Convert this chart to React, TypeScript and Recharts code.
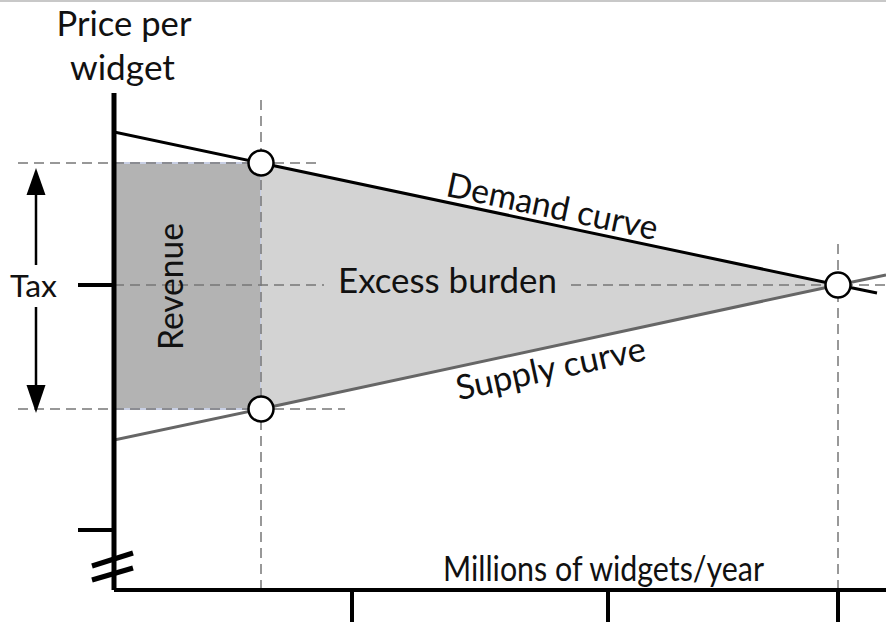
import React from 'react';
import {
  ComposedChart,
  XAxis,
  YAxis,
  Line,
  Area,
  Scatter,
  ReferenceLine,
  ReferenceArea,
  ReferenceDot,
} from 'recharts';

const W = 886;
const H = 630;
const FONT = 'Lato, "Noto Sans", sans-serif';

// Quantities (x) and prices (y)
const demandQ = [0, 14.7, 72.4, 76.3];
const demandP = [45.8, 42.7, 30.5, 29.7];
const supplyQ = [0, 14.7, 72.4, 77.2];
const supplyP = [15.0, 18.1, 30.5, 31.5];

const taxQ = 14.7; // quantity with tax
const eqQ = 72.4; // equilibrium quantity
const eqP = 30.5; // equilibrium price
const buyerP = 42.7; // price paid by buyers
const sellerP = 18.1; // price received by sellers

const markerQ = [14.7, 14.7, 72.4];
const markerP = [42.7, 18.1, 30.5];

const burdenQ = [14.7, 72.4];
const burdenLow = [18.1, 30.5];
const burdenHigh = [42.7, 30.5];

const xTicks = [23.8, 49.4, 72.4];
const yTicks = [30.5, 6.0];

const xDomain = [0, 77.2];
const yDomain = [0, 49.7];

const demandData = demandQ.map((q, i) => ({ q, p: demandP[i] }));
const supplyData = supplyQ.map((q, i) => ({ q, p: supplyP[i] }));
const markerData = markerQ.map((q, i) => ({ q, p: markerP[i] }));
const burdenData = burdenQ.map((q, i) => ({ q, band: [burdenLow[i], burdenHigh[i]] }));

const dash = { stroke: '#777', strokeWidth: 1.5, strokeDasharray: '10 6' };

const textShape =
  (text: string, size: number, length: number, rotate = 0) =>
  (p: any) =>
    (
      <text
        x={p.cx}
        y={p.cy}
        textAnchor="middle"
        fontSize={size}
        fontFamily={FONT}
        fill="#111"
        textLength={length}
        lengthAdjust="spacingAndGlyphs"
        transform={rotate ? `rotate(${rotate} ${p.cx} ${p.cy})` : undefined}
      >
        {text}
      </text>
    );

const arrowUp = (p: any) => (
  <polygon points={`${p.cx},${p.cy} ${p.cx - 9.5},${p.cy + 27} ${p.cx + 9.5},${p.cy + 27}`} fill="#000" />
);
const arrowDown = (p: any) => (
  <polygon points={`${p.cx},${p.cy} ${p.cx - 9.5},${p.cy - 28} ${p.cx + 9.5},${p.cy - 28}`} fill="#000" />
);

const circleShape = (p: any) => (
  <circle cx={p.cx} cy={p.cy} r={12.5} fill="#fff" stroke="#000" strokeWidth={2.5} />
);

export default function App() {
  return (
    <div style={{ position: 'absolute', left: 0, top: 0, width: W, height: H, background: '#fff' }}>
      <ComposedChart width={W} height={H} margin={{ top: 93, right: 0, bottom: 0, left: 0 }}>
        <XAxis
          dataKey="q"
          type="number"
          domain={xDomain}
          allowDataOverflow
          ticks={xTicks}
          interval={0}
          height={40}
          tickSize={32}
          tickFormatter={() => ''}
          axisLine={{ stroke: '#000', strokeWidth: 4 }}
          tickLine={{ stroke: '#000', strokeWidth: 4 }}
        />
        <YAxis
          type="number"
          domain={yDomain}
          allowDataOverflow
          ticks={yTicks}
          interval={0}
          width={114}
          tickSize={36}
          tickFormatter={() => ''}
          axisLine={{ stroke: '#000', strokeWidth: 5 }}
          tickLine={{ stroke: '#000', strokeWidth: 4 }}
        />

        {/* top border line */}
        <ReferenceLine
          segment={[{ x: -11.4, y: 58.95 }, { x: 77.2, y: 58.95 }]}
          stroke="#c8c8c8"
          strokeWidth={3}
          ifOverflow="visible"
        />

        {/* revenue rectangle */}
        <ReferenceArea
          x1={0}
          x2={taxQ}
          y1={sellerP}
          y2={buyerP}
          fill="#b3b3b3"
          fillOpacity={1}
          stroke="#c8cfe4"
          strokeWidth={2}
          ifOverflow="visible"
        />

        {/* excess burden triangle */}
        <Area
          data={burdenData}
          dataKey="band"
          type="linear"
          fill="#d3d3d3"
          fillOpacity={1}
          stroke="none"
          isAnimationActive={false}
          dot={false}
          activeDot={false}
        />

        {/* dashed guides */}
        <ReferenceLine segment={[{ x: -9.6, y: buyerP }, { x: 20.6, y: buyerP }]} {...dash} ifOverflow="visible" />
        <ReferenceLine segment={[{ x: -9.6, y: sellerP }, { x: 23.1, y: sellerP }]} {...dash} ifOverflow="visible" />
        <ReferenceLine segment={[{ x: 0, y: eqP }, { x: 21.0, y: eqP }]} {...dash} ifOverflow="visible" />
        <ReferenceLine segment={[{ x: 45.7, y: eqP }, { x: 77.2, y: eqP }]} {...dash} ifOverflow="visible" />
        <ReferenceLine segment={[{ x: taxQ, y: 0 }, { x: taxQ, y: 49.5 }]} {...dash} ifOverflow="visible" />
        <ReferenceLine segment={[{ x: eqQ, y: 0 }, { x: eqQ, y: 35 }]} {...dash} ifOverflow="visible" />

        {/* axis break marks */}
        <ReferenceLine segment={[{ x: -2.2, y: 2.4 }, { x: 1.9, y: 3.7 }]} stroke="#000" strokeWidth={5} ifOverflow="visible" />
        <ReferenceLine segment={[{ x: -2.2, y: 1.0 }, { x: 1.9, y: 2.2 }]} stroke="#000" strokeWidth={5} ifOverflow="visible" />

        {/* tax arrow */}
        <ReferenceLine segment={[{ x: -7.8, y: 40.0 }, { x: -7.8, y: 32.5 }]} stroke="#000" strokeWidth={2.5} ifOverflow="visible" />
        <ReferenceLine segment={[{ x: -7.8, y: 28.3 }, { x: -7.8, y: 20.5 }]} stroke="#000" strokeWidth={2.5} ifOverflow="visible" />
        <ReferenceDot x={-7.8} y={42.2} r={0} shape={arrowUp} ifOverflow="visible" />
        <ReferenceDot x={-7.8} y={17.7} r={0} shape={arrowDown} ifOverflow="visible" />

        {/* curves */}
        <Line
          data={supplyData}
          dataKey="p"
          type="linear"
          stroke="#666"
          strokeWidth={3}
          dot={false}
          activeDot={false}
          isAnimationActive={false}
        />
        <Line
          data={demandData}
          dataKey="p"
          type="linear"
          stroke="#000"
          strokeWidth={3}
          dot={false}
          activeDot={false}
          isAnimationActive={false}
        />

        {/* points */}
        <Scatter data={markerData} dataKey="p" shape={circleShape} isAnimationActive={false} />

        {/* labels */}
        <ReferenceDot x={1.0} y={55.4} r={0} shape={textShape('Price per', 34, 135)} ifOverflow="visible" />
        <ReferenceDot x={0.85} y={51.0} r={0} shape={textShape('widget', 34, 105)} ifOverflow="visible" />
        <ReferenceDot x={-8.05} y={29.3} r={0} shape={textShape('Tax', 30, 47)} ifOverflow="visible" />
        <ReferenceDot x={6.9} y={30.35} r={0} shape={textShape('Revenue', 34, 127, -90)} ifOverflow="visible" />
        <ReferenceDot x={33.35} y={29.7} r={0} shape={textShape('Excess burden', 34, 219)} ifOverflow="visible" />
        <ReferenceDot x={43.6} y={37.2} r={0} shape={textShape('Demand curve', 34, 215, 11.9)} ifOverflow="visible" />
        <ReferenceDot x={43.9} y={21.0} r={0} shape={textShape('Supply curve', 34, 193, -12.1)} ifOverflow="visible" />
        <ReferenceDot x={48.95} y={0.9} r={0} shape={textShape('Millions of widgets/year', 34, 321)} ifOverflow="visible" />
      </ComposedChart>
    </div>
  );
}
